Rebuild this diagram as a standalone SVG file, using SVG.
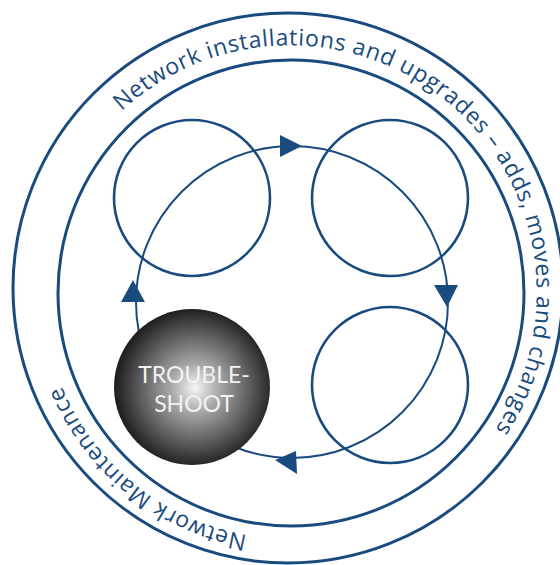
<svg xmlns="http://www.w3.org/2000/svg" width="560" height="565" viewBox="0 0 560 565">
  <defs>
    <radialGradient id="sphereGrad" cx="195" cy="388" r="80" gradientUnits="userSpaceOnUse">
      <stop offset="0" stop-color="#f6f6f6"/>
      <stop offset="0.3" stop-color="#a8a8a8"/>
      <stop offset="0.7" stop-color="#5a5a5a"/>
      <stop offset="1" stop-color="#1e1e1e"/>
    </radialGradient>
    <path id="topArc" d="M 121.6 111.4 A 247 247 0 0 1 489.8 437.2"/>
    <path id="bottomArc" d="M 247.1 535.2 A 247 247 0 0 1 61 384.5"/>
  </defs>
  <style>
    .ring { fill: none; stroke: #1a4b7e; stroke-width: 3; }
    .node { fill: none; stroke: #1a4b7e; stroke-width: 2.6; }
    .loop { fill: none; stroke: #1a4b7e; stroke-width: 2; }
    .arrow { fill: #1a4b7e; stroke: none; }
    .ringText { font-family: "Open Sans", "Liberation Sans", sans-serif; font-size: 23px; fill: #1a4b7e; }
    .nodeText { font-family: Lato, "Open Sans", "Liberation Sans", sans-serif; font-size: 23px; fill: #f2f2f2; text-anchor: middle; }
  </style>

  <g id="outer-ring">
    <circle class="ring" cx="288" cy="288" r="275"/>
  </g>
  <g id="inner-ring">
    <circle class="ring" cx="291" cy="293" r="233"/>
  </g>
  <g id="ring-labels">
    <text class="ringText"><textPath href="#topArc" textLength="718" lengthAdjust="spacing">Network installations and upgrades – adds, moves and changes</textPath></text>
    <text class="ringText"><textPath href="#bottomArc" textLength="248" lengthAdjust="spacing">Network Maintenance</textPath></text>
  </g>

  <g id="node-top-left">
    <circle class="node" cx="192" cy="198" r="78"/>
  </g>
  <g id="node-top-right">
    <circle class="node" cx="390" cy="198" r="78"/>
  </g>
  <g id="node-bottom-right">
    <circle class="node" cx="390" cy="385" r="78"/>
  </g>

  <g id="connectors">
    <circle class="loop" cx="292" cy="302" r="156"/>
    <polygon class="arrow" points="280,135 280,157 302,146"/>
    <polygon class="arrow" points="434,285 458,285 447,307"/>
    <polygon class="arrow" points="275,460 296,451 297,474"/>
    <polygon class="arrow" points="133,280 121,302 145,302"/>
  </g>

  <g id="node-troubleshoot">
    <circle cx="192" cy="387" r="78" fill="url(#sphereGrad)"/>
    <text class="nodeText" x="194" y="383">TROUBLE-</text>
    <text class="nodeText" x="194" y="412">SHOOT</text>
  </g>
</svg>
